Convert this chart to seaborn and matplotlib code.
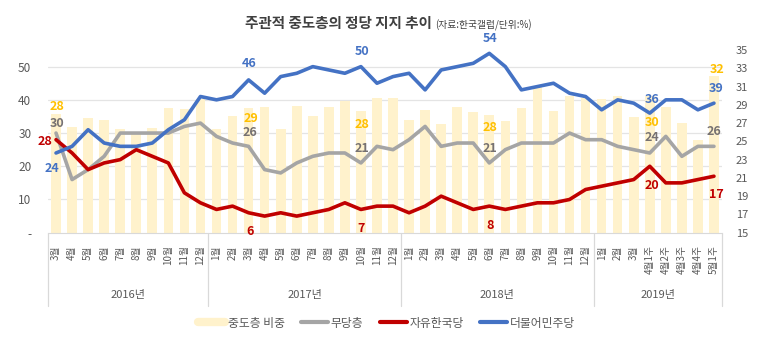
import numpy as np
import matplotlib
matplotlib.use('Agg')
import matplotlib.pyplot as plt
import matplotlib.transforms as mtransforms
from matplotlib.lines import Line2D
import seaborn as sns

# x categories, grouped by year
months_2016 = ['3월', '4월', '5월', '6월', '7월', '8월', '9월', '10월', '11월', '12월']
months_2017 = ['1월', '2월', '3월', '4월', '5월', '6월', '7월', '8월', '9월', '10월', '11월', '12월']
months_2018 = ['1월', '2월', '3월', '4월', '5월', '6월', '7월', '8월', '9월', '10월', '11월', '12월']
months_2019 = ['1월', '2월', '3월', '4월1주', '4월2주', '4월3주', '4월4주', '5월1주']
years = ['2016년', '2017년', '2018년', '2019년']

# 중도층 비중 (right axis)
midpoint_share = [28, 26.6, 27.6, 27.3, 26.4, 25.8, 26.5, 28.6, 28.5, 29.6,
                  26.4, 27.8, 28.6, 28.8, 26.3, 28.9, 27.8, 28.8, 29.4, 28.3, 29.7, 29.75,
                  27.3, 28.4, 26.9, 28.8, 28.2, 27.9, 27.2, 28.7, 31.0, 28.3, 30.0, 29.7,
                  29.6, 30.0, 27.7, 30.0, 28.8, 27.0, 25.1, 32.2]
# 무당층
no_party = [30, 16, 19, 23, 30, 30, 30, 30, 32, 33,
            29, 27, 26, 19, 18, 21, 23, 24, 24, 21, 26, 25,
            28, 32, 26, 27, 27, 21, 25, 27, 27, 27, 30, 28,
            28, 26, 25, 24, 29, 23, 26, 26]
# 자유한국당
liberty_korea = [28, 24, 19, 21, 22, 25, 23, 21, 12, 9,
                 7, 8, 6, 5, 6, 5, 6, 7, 9, 7, 8, 8,
                 6, 8, 11, 9, 7, 8, 7, 8, 9, 9, 10, 13,
                 14, 15, 16, 20, 15, 15, 16, 17]
# 더불어민주당
democratic = [24, 26, 31, 27, 26, 26, 27, 31, 34, 41,
              40, 41, 46, 42, 47, 48, 50, 49, 48, 50, 45, 47,
              48, 43, 49, 50, 51, 54, 50, 43, 44, 45, 42, 41,
              37, 40, 39, 36, 40, 40, 37, 39]

# points that carry a value label
label_idx = [0, 12, 19, 27, 37, 41]

BAR_C = '#FFF2CC'
GRAY_C = '#A5A5A5'
RED_C = '#C00000'
BLUE_C = '#4472C4'
TEXT_C = '#595959'


def add_labels(ax, values, color, offsets, fmt='{:.0f}'):
    # offsets: (dx, dy) in pixels per labelled point
    for i, (dx, dy) in zip(label_idx, offsets):
        ax.annotate(fmt.format(values[i]), xy=(i, values[i]), xytext=(dx, dy),
                    textcoords='offset pixels', ha='center', va='center',
                    color=color, fontsize=9, fontweight='bold', zorder=10)


def main():
    sns.set_style('white')
    plt.rcParams['font.family'] = ['Noto Sans CJK KR', 'DejaVu Sans']

    labels = months_2016 + months_2017 + months_2018 + months_2019
    idx = np.arange(len(labels))

    fig = plt.figure(figsize=(7.73, 3.55), dpi=100)
    ax = fig.add_axes([0.0621, 0.3445, 0.8719, 0.5146])
    ax2 = ax.twinx()

    # bars on the right-hand scale
    sns.barplot(x=idx, y=midpoint_share, ax=ax, color=BAR_C, saturation=1,
                width=0.6, errorbar=None, edgecolor='none', zorder=2)
    ax.set_ylim(15, 35)
    ax.set_yticks(range(15, 36, 2))
    ax.yaxis.tick_right()
    ax.tick_params(axis='y', colors=TEXT_C, labelsize=8, length=0, pad=10)

    # lines on the left-hand scale
    sns.lineplot(x=idx, y=no_party, ax=ax2, color=GRAY_C, linewidth=2.6)
    sns.lineplot(x=idx, y=liberty_korea, ax=ax2, color=RED_C, linewidth=2.6)
    sns.lineplot(x=idx, y=democratic, ax=ax2, color=BLUE_C, linewidth=2.6)
    ax2.set_ylim(0, 55)
    ax2.set_yticks([0, 10, 20, 30, 40, 50])
    ax2.set_yticklabels(['-', '10', '20', '30', '40', '50'])
    ax2.yaxis.tick_left()
    ax2.tick_params(axis='y', colors=TEXT_C, labelsize=8.5, length=0, pad=12)
    ax.set_ylabel('')
    ax2.set_ylabel('')

    # gridlines follow the left scale but sit behind the bars
    grid_tr = mtransforms.blended_transform_factory(ax.transAxes, ax2.transData)
    for v in [10, 20, 30, 40, 50]:
        ax.add_line(Line2D([0, 1], [v, v], transform=grid_tr, color='#E4E4E4',
                           lw=0.9, zorder=0))

    ax.set_xlim(-0.5, len(labels) - 0.5)
    ax.set_xticks(idx)
    ax.set_xticklabels(labels, rotation=90, fontsize=7)
    ax.tick_params(axis='x', colors=TEXT_C, length=0, pad=9)
    ax.set_xlabel('')

    for s in ['top', 'left', 'right']:
        ax.spines[s].set_visible(False)
        ax2.spines[s].set_visible(False)
    ax2.spines['bottom'].set_visible(False)
    ax.spines['bottom'].set_color('#D9D9D9')

    # year groups under the month labels
    trans = mtransforms.blended_transform_factory(ax.transData, ax.transAxes)
    sizes = [len(months_2016), len(months_2017), len(months_2018), len(months_2019)]
    edges = np.concatenate([[0], np.cumsum(sizes)]) - 0.5
    for e in edges:
        ax.plot([e, e], [0, -0.40], transform=trans, clip_on=False,
                color='#D9D9D9', lw=0.9)
    for yr, a, b in zip(years, edges[:-1], edges[1:]):
        ax.text((a + b) / 2, -0.34, yr, transform=trans, ha='center', va='center',
                fontsize=8, color=TEXT_C)

    # value labels
    add_labels(ax, midpoint_share, '#FFC000',
               [(1, 7), (2, -10), (1, -13), (1, -13), (2, -27), (3, 6)])
    add_labels(ax2, no_party, '#767171',
               [(1, 10), (1, 14), (1, 14), (1, 14), (2, 15), (0, 15)])
    add_labels(ax2, liberty_korea, RED_C,
               [(-11, -2), (1, -19), (0, -19), (1, -19), (2, -19), (2, -18)])
    add_labels(ax2, democratic, BLUE_C,
               [(-4, -16), (1, 16), (1, 15), (1, 15), (2, 14), (2, 15)])

    # title
    fig.text(0.559, 0.921, '주관적 중도층의 정당 지지 추이', ha='right', va='baseline',
             fontsize=10.5, fontweight='bold', color='#404040')
    fig.text(0.563, 0.921, '(자료:한국갤럽/단위:%)', ha='left', va='baseline',
             fontsize=7, color='#404040')

    handles = [Line2D([], [], color=BAR_C, lw=6),
               Line2D([], [], color=GRAY_C, lw=3),
               Line2D([], [], color=RED_C, lw=3),
               Line2D([], [], color=BLUE_C, lw=3)]
    names = ['중도층 비중', '무당층', '자유한국당', '더불어민주당']
    leg = fig.legend(handles, names, loc='center', bbox_to_anchor=(0.5, 0.09),
                     ncol=4, frameon=False, fontsize=8.5, handlelength=2.3,
                     handletextpad=0.2, columnspacing=1.4)
    for t in leg.get_texts():
        t.set_color(TEXT_C)

    fig.savefig('out.png', dpi=100)


if __name__ == "__main__":
    main()
